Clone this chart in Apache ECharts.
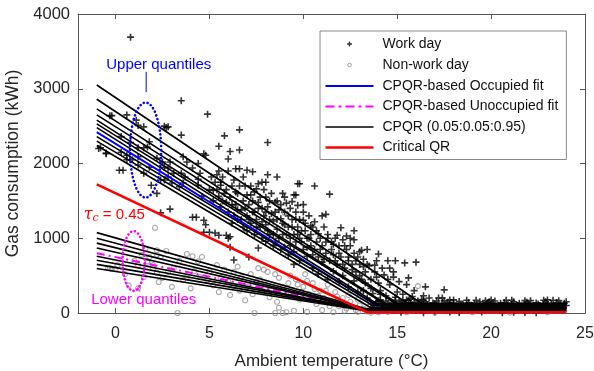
<!DOCTYPE html>
<html>
<head>
<meta charset="utf-8">
<script src="https://cdn.jsdelivr.net/npm/echarts@6/dist/echarts.min.js"></script>
<style>
  html, body { margin: 0; padding: 0; background: #fff; }
  #chart { width: 594px; height: 371px; }
</style>
</head>
<body>
<div id="chart"></div>
<script>
// ---- data ----
const xTicks = [0, 5, 10, 15, 20, 25]

// work day consumption [temperature, kWh]
const workDay = [
  [-0.9,2200],[-0.8,2210],[-0.5,2140],[-0.5,2130],[-0.3,2640],[-0.2,2640],[0.3,2360],[0.3,2150],[0.2,1910],[0.4,1910],
  [0.6,2650],[0.6,2050],[0.6,2110],[0.8,3690],[0.8,2280],[0.9,2050],[1.1,2580],[1.2,2510],[1.2,2210],[1.2,2090],
  [1.2,1980],[1.5,2490],[1.5,2210],[1.5,1870],[1.7,2220],[1.8,2290],[1.8,1950],[1.9,1710],[2.2,2070],[2.2,1600],
  [2.4,1780],[2.4,1340],[2.5,2020],[2.6,2500],[2.6,1950],[2.6,1780],[2.7,2480],[2.8,2490],[2.8,1940],[2.8,1820],
  [2.9,2020],[2.9,1390],[3.0,1740],[3.1,1870],[3.4,1690],[3.5,2840],[3.5,2380],[3.5,1870],[3.6,2090],[3.6,1740],
  [3.7,1820],[3.8,2020],[4.1,1940],[4.1,1280],[4.3,1280],[4.4,2000],[4.4,1710],[4.4,1790],[4.5,1870],[4.6,1560],
  [4.7,2130],[4.7,1240],[4.7,1080],[4.8,2110],[4.8,1180],[4.9,2660],[5.0,1080],[5.0,1650],
  [5.1,1820],[5.2,1640],[5.2,1500],[5.3,1070],[5.4,1850],[5.4,1650],[5.5,1040],[5.5,2230],[5.5,1560],[5.6,1750],
  [5.6,1710],[5.6,1420],[5.8,2370],[5.8,1600],[5.9,1040],[5.9,1480],[6.0,2060],[6.0,1000],[6.0,1350],[6.1,880],
  [6.1,2160],[6.1,1020],[6.1,1550],[6.2,1700],[6.3,710],[6.3,1300],[6.4,1930],[6.4,1450],[6.5,1600],[6.5,1250],
  [6.6,2450],[6.6,2180],[6.6,1930],[6.7,1380],[6.8,1500],[6.8,1150],[6.9,1700],[7.0,1910],[7.0,1300],[7.0,1100],
  [7.1,750],[7.1,1450],[7.2,1580],[7.2,1200],[7.3,1890],[7.3,1350],[7.4,1050],[7.5,1660],[7.5,1250],[7.6,1730],
  [7.6,1480],[7.6,870],[7.7,1150],[7.8,1750],[7.8,1400],[7.8,1000],[7.9,1300],[8.0,1750],[8.0,1550],[8.0,1180],
  [8.0,960],[8.1,2280],[8.1,1850],[8.1,1420],[8.2,1050],[8.3,1330],[8.4,1230],[8.4,900],[8.5,1480],[8.5,950],
  [8.6,1820],[8.6,1120],[8.7,1380],[8.8,1260],[8.8,850],[8.9,1050],[9.0,1550],[9.0,1180],[9.0,880],[9.1,1470],
  [9.2,1300],[9.2,780],[9.3,1000],[9.4,1490],[9.4,1150],[9.5,1580],[9.5,820],[9.5,650],[9.6,1580],[9.6,1250],
  [9.7,1440],[9.7,1730],[9.7,1050],[9.8,1730],[9.8,700],[9.9,950],[10.0,1240],[10.0,1350],[10.1,1100],[10.2,880],
  [10.2,760],[10.3,1000],[10.4,1170],[10.5,780],[10.5,600],[10.6,1700],[10.6,1220],[10.7,950],[10.8,1060],[10.8,520],
  [10.9,850],[11.0,1300],[11.0,680],[11.1,720],[11.2,1320],[11.2,950],[11.3,1050],[11.3,450],[11.4,1590],[11.5,850],
  [11.6,920],[11.6,560],[11.7,700],[11.8,1040],[11.9,800],[11.9,420],[12.0,1140],[12.1,650],[12.1,500],[12.2,900],
  [12.3,1030],[12.4,750],[12.4,350],[12.5,1000],[12.6,580],[12.7,1100],[12.7,980],[12.7,430],[12.8,700],[12.9,280],
  [13.0,820],[13.0,500],[13.1,840],[13.2,620],[13.2,300],[13.3,400],[13.4,200],[13.5,630],[13.6,330],[13.7,260],
  [13.8,640],[13.9,480],[14.0,790],[14.1,250],[14.1,300],[14.3,510],[14.4,230],[14.5,700],[14.6,380],[14.8,480],
  [14.9,700],[14.9,210],[15.0,280],[15.3,250],[15.4,670],[15.6,470],[15.7,190],[15.8,220],[16.0,680],[16.1,90],
  [16.3,180],[16.4,230],[16.7,200],[17.2,200],[17.4,200],[17.5,310],
  [5.3,1750],[5.5,1900],[5.7,1500],[5.7,1820],[5.9,1650],[6.0,1900],[6.2,1450],[6.2,1200],[6.3,1780],[6.4,1620],
  [6.5,1380],[6.6,1700],[6.7,1250],[6.8,1820],[6.9,1400],[7.0,1580],[7.1,1250],[7.2,1700],[7.3,1500],[7.4,1350],
  [7.4,1620],[7.5,1150],[7.6,1400],[7.7,1550],[7.8,1220],[7.9,1650],[8.0,1350],[8.1,1100],[8.2,1500],[8.2,1250],
  [8.3,1600],[8.4,1050],[8.5,1350],[8.6,1250],[8.6,1500],[8.7,1000],[8.8,1450],[8.9,1200],[8.9,1600],[9.0,1350],
  [9.1,1050],[9.2,1150],[9.3,1400],[9.3,900],[9.4,1250],[9.5,1050],[9.6,1350],[9.6,950],[9.7,1150],[9.8,1250],
  [9.8,1000],[9.9,1100],[10.0,850],[10.0,1450],[10.1,1200],[10.2,1000],[10.3,1300],[10.4,900],[10.4,1050],[10.5,1150],
  [10.6,850],[10.7,1100],[10.8,750],[10.9,1000],[11.0,900],[11.1,1150],[11.2,800],[11.3,1000],[11.4,700],[11.5,950],
  [11.6,780],[11.7,1000],[11.8,650],[11.9,900],[12.0,750],[12.1,980],[12.2,600],[12.3,850],[12.4,700],[12.5,900],
  [12.6,650],[12.7,800],[12.8,550],[12.9,750],[13.0,650],[13.1,450],[13.2,720],[13.3,550],[13.4,650],[13.6,450],
  [13.8,550],[14.0,400],[14.2,600],[14.5,450],[14.8,550],[15.1,420],[15.5,380],[15.9,300],[16.5,350],[13.4,850],
  [13.9,700],[14.6,600],
  [13.6,120],[13.8,95],[13.9,150],[14.0,70],[14.2,130],[14.3,105],[14.4,160],[14.6,85],[14.7,140],[14.8,115],
  [15.0,60],[15.1,150],[15.2,100],[15.4,130],[15.5,80],[15.6,170],[15.8,110],[15.9,140],[16.0,65],[16.2,125],
  [16.3,95],[16.5,150],[16.6,110],[16.8,75],[16.9,135],[17.1,160],[17.2,100],[17.4,120],[17.6,85],[17.7,145],
  [17.9,105],[18.0,130],[18.2,70],[18.3,155],[18.5,115],[18.6,90],[18.8,140],[19.0,100],[19.1,125],[19.3,80],
  [19.4,150],[19.6,110],[19.8,135],[19.9,90],[20.1,120],[20.2,160],[20.4,100],[20.6,75],[20.7,140],[20.9,115],
  [21.0,95],[21.2,150],[21.4,105],[21.5,130],[21.7,85],[21.9,145],[22.0,110],[22.2,90],[22.4,135],[22.5,120],
  [22.7,70],[22.9,150],[23.0,100],[23.2,125],[23.4,90],[23.5,140],[23.7,110],[23.8,80],[23.9,130],[24.0,100],
  [14.1,175],[15.3,165],[16.4,170],[17.5,165],[18.7,170],[19.7,165],[20.8,170],[21.8,165],[22.8,170],[23.6,165],
  [13.7,45],[14.0,165],[14.3,55],[14.5,120],[14.9,170],[15.3,45],[15.7,135],[16.1,160],[16.6,50],[17.0,120],
  [17.3,55],[17.8,175],[18.1,45],[18.4,100],[18.9,60],[19.2,170],[19.5,50],[19.9,150],[20.3,55],[20.5,130],
  [20.9,45],[21.1,170],[21.6,55],[22.1,165],[22.3,50],[22.6,100],[23.1,55],[23.3,170],[23.6,50],[24.0,150],
  [14.8,40],[16.0,40],[17.6,40],[19.7,40],[21.3,40],[22.9,40],[15.5,175],[18.0,175],[20.0,175],[23.0,175],
  [15.2,10],[16.4,5],[17.0,15],[17.8,12],[18.3,8],[19.5,12],[20.6,5],[21.2,10],[21.8,8],[22.4,5]
]

// non-work day consumption [temperature, kWh]
const nonWorkDay = [
  [-0.4,600],[-0.3,600],[-0.2,590],[0.0,590],[0.1,640],[0.7,370],[1.0,700],[1.2,330],[1.2,640],[1.4,780],
  [1.6,860],[1.7,690],[1.7,670],[1.8,750],[2.0,640],[2.0,600],[2.1,1140],[2.2,540],[2.2,840],[2.2,780],
  [2.3,415],[2.4,750],[2.7,830],[2.8,550],[3.1,600],[3.3,0],[3.6,440],[3.8,480],[3.8,790],[4.1,760],
  [4.4,690],[4.5,480],[4.6,750],[4.9,440],[5.2,370],[5.4,640],[5.8,580],[6.1,240],[6.3,550],[6.3,360],
  [6.7,480],[6.9,170],[7.2,520],[7.4,0],[7.5,420],[7.6,600],[7.8,310],[7.9,580],[7.9,280],[8.1,550],
  [8.2,210],[8.5,0],[8.5,520],[8.7,470],[8.7,70],[8.9,0],[9.0,1340],[9.1,10],[9.2,400],[9.4,300],
  [9.5,30],[9.6,450],[9.8,180],[10.0,350],[10.1,520],[10.2,15],[10.3,250],[10.5,400],[10.7,120],[10.9,300],
  [11.0,40],[11.1,200],[11.3,380],[11.5,150],[11.6,10],[11.7,280],[11.9,90],[12.1,200],[12.2,30],[12.3,60],
  [12.5,150],[12.8,40],[12.9,15],[13.0,100],[13.4,20],[13.6,5],[14.0,10],[14.5,15],[15.5,10],[16.1,360],
  [17.0,5],[19.0,10],[21.0,5],[23.0,10],
  [7.0,350],[7.3,250],[7.7,450],[8.0,380],[8.3,300],[8.6,150],[8.9,350],[9.1,250],[9.3,500],[9.7,380],
  [9.9,280],[10.2,430],[10.4,180],[10.6,320],[10.8,230],[11.2,300],[11.4,90],[11.8,220],[12.0,130],[12.4,240],
  [12.6,80],[12.9,180],[13.2,60],[5.0,560],[5.6,470],[6.0,420],[6.5,620],[4.2,560],[3.4,700],[2.5,470],
  [0.5,520],[1.5,480],[3.0,350],[4.0,330],[5.5,280],[6.6,300]
]

// quantile lines: value at t = -1, knee temperature, flat level after the knee
const lineStartT = -1
const lineEndT = 24
const upperStart = [3050, 2860, 2730, 2650, 2580, 2530, 2480, 2360, 2300, 2240]
const upperKnee = [16.4, 15.6, 15.2, 14.9, 14.6, 14.4, 14.2, 13.8, 13.7, 13.6]
const upperFloor = [110, 120, 100, 130, 90, 110, 80, 120, 100, 70]
const lowerStart = [1075, 1000, 935, 870, 760, 705, 650, 595]
const lowerKnee = [13.3, 13.3, 13.4, 13.4, 13.5, 13.5, 13.6, 13.6]
const lowerFloor = [60, 50, 40, 45, 30, 35, 25, 20]
const occupiedFit = [2420, 13.9, 100]
const unoccupiedFit = [800, 13.5, 40]
const criticalQR = [1720, 13.4, 10]

const FONT = 'Liberation Sans, Arial, sans-serif'
const PLUS = 'path://M2.7,0h1.6v2.7h2.7v1.6h-2.7v2.7h-1.6v-2.7h-2.7v-1.6h2.7z'

const kinked = (start, knee, floor) => [[lineStartT, start], [knee, floor], [lineEndT, floor]]

const chart = echarts.init(document.getElementById('chart'))

const quantName = 'CPQR (0.05:0.05:0.95)'
const quantLines = []
upperStart.forEach((s, i) => quantLines.push(kinked(s, upperKnee[i], upperFloor[i])))
lowerStart.forEach((s, i) => quantLines.push(kinked(s, lowerKnee[i], lowerFloor[i])))

const series = [
  {
    name: 'Work day', type: 'scatter', data: workDay,
    symbol: PLUS, symbolSize: 7, itemStyle: { color: '#000' }
  },
  {
    name: 'Non-work day', type: 'scatter', data: nonWorkDay,
    symbol: 'circle', symbolSize: 5,
    itemStyle: { color: 'rgba(0,0,0,0)', borderColor: '#909090', borderWidth: 1.1 }
  },
  {
    name: 'CPQR-based Occupied fit', type: 'line', symbol: 'none',
    data: kinked(...occupiedFit),
    lineStyle: { color: '#0000ff', width: 2 }
  },
  {
    name: 'CPQR-based Unoccupied fit', type: 'line', symbol: 'none',
    data: kinked(...unoccupiedFit),
    lineStyle: { color: '#ff00ff', width: 2, type: [8, 4, 2, 4] }
  },
  ...quantLines.map(d => ({
    name: quantName, type: 'line', symbol: 'none', data: d,
    lineStyle: { color: '#000', width: 1.6 }
  })),
  {
    name: 'Critical QR', type: 'line', symbol: 'none',
    data: kinked(...criticalQR),
    lineStyle: { color: '#ff0000', width: 2.5 }
  }
]

const axisColor = '#555'
const labelColor = '#262626'
const plain = v => String(v)

chart.setOption({
  animation: false,
  textStyle: { fontFamily: FONT },
  grid: { left: 78, right: 9, top: 14, bottom: 58, outerBoundsMode: 'none' },
  legend: {
    orient: 'vertical', left: 320, top: 31,
    itemWidth: 48, itemHeight: 14, itemGap: 6.5,
    padding: [6, 8, 5, 5],
    borderColor: '#888', borderWidth: 1, backgroundColor: '#fff',
    textStyle: { fontFamily: FONT, fontSize: 14, color: '#111', padding: [0, 0, 0, 4] },
    data: [
      { name: 'Work day', icon: 'path://M0,0M48,14M21.5,6.3h5v1.4h-5zM23.3,4.5h1.4v5h-1.4z', itemStyle: { color: '#000' } },
      { name: 'Non-work day', icon: 'path://M0,0M48,14M25.8,7a1.8,1.8 0 1 1 -3.6,0a1.8,1.8 0 1 1 3.6,0z',
        itemStyle: { color: 'rgba(0,0,0,0)', borderColor: '#888', borderWidth: 1 } },
      { name: 'CPQR-based Occupied fit', icon: 'path://M0,0M48,14M0,6h48v2h-48z', itemStyle: { color: '#0000ff' } },
      { name: 'CPQR-based Unoccupied fit',
        icon: 'path://M0,0M48,14M0,6h9v2h-9zM13,6h3v2h-3zM20,6h9v2h-9zM33,6h3v2h-3zM40,6h8v2h-8z',
        itemStyle: { color: '#ff00ff' } },
      { name: quantName, icon: 'path://M0,0M48,14M0,6.2h48v1.6h-48z', itemStyle: { color: '#000' } },
      { name: 'Critical QR', icon: 'path://M0,0M48,14M0,5.8h48v2.4h-48z', itemStyle: { color: '#ff0000' } }
    ]
  },
  xAxis: [
    {
      type: 'value', min: -2, max: 25,
      name: 'Ambient temperature (°C)', nameLocation: 'middle', nameGap: 40,
      nameTextStyle: { fontSize: 17, color: labelColor, fontFamily: FONT },
      axisLine: { onZero: false, lineStyle: { color: axisColor } },
      axisTick: { inside: true, length: 5, customValues: xTicks, lineStyle: { color: axisColor } },
      axisLabel: { customValues: xTicks, fontSize: 16, color: labelColor, margin: 13, formatter: plain },
      splitLine: { show: false }
    },
    {
      type: 'value', min: -2, max: 25, position: 'top',
      axisLine: { onZero: false, lineStyle: { color: axisColor } },
      axisTick: { inside: true, length: 5, customValues: xTicks, lineStyle: { color: axisColor } },
      axisLabel: { show: false },
      splitLine: { show: false }
    }
  ],
  yAxis: [
    {
      type: 'value', min: 0, max: 4000, interval: 1000,
      name: 'Gas consumption (kWh)', nameLocation: 'middle', nameGap: 44,
      nameTextStyle: { fontSize: 17.5, color: labelColor, fontFamily: FONT },
      axisLine: { show: true, onZero: false, lineStyle: { color: axisColor } },
      axisTick: { show: true, inside: true, length: 5, lineStyle: { color: axisColor } },
      axisLabel: { fontSize: 16.5, color: labelColor, margin: 8, formatter: plain },
      splitLine: { show: false }
    },
    {
      type: 'value', min: 0, max: 4000, interval: 1000, position: 'right',
      axisLine: { show: true, onZero: false, lineStyle: { color: axisColor } },
      axisTick: { show: true, inside: true, length: 5, lineStyle: { color: axisColor } },
      axisLabel: { show: false },
      splitLine: { show: false }
    }
  ],
  series
})

// ---- annotations anchored in data space ----
const toPx = p => chart.convertToPixel({ xAxisIndex: 0, yAxisIndex: 0 }, p)

function ellipseAt(center, halfT, halfKwh, color) {
  const c = toPx(center)
  const e = toPx([center[0] + halfT, center[1] + halfKwh])
  return {
    type: 'ellipse', silent: true, z: 100,
    shape: { cx: c[0], cy: c[1], rx: Math.abs(e[0] - c[0]), ry: Math.abs(e[1] - c[1]) },
    style: { fill: 'none', stroke: color, lineWidth: 2.6, lineDash: [0.1, 3.8], lineCap: 'round' }
  }
}

function segment(a, b, color) {
  const p = toPx(a), q = toPx(b)
  return {
    type: 'line', silent: true, z: 100,
    shape: { x1: p[0], y1: p[1], x2: q[0], y2: q[1] },
    style: { stroke: color, lineWidth: 1 }
  }
}

function label(at, text, color, align, rich) {
  const p = toPx(at)
  return {
    type: 'text', silent: true, z: 100, x: p[0], y: p[1],
    style: {
      text, fill: color, font: '15px ' + FONT,
      align, verticalAlign: 'middle', rich
    }
  }
}

chart.setOption({
  graphic: [
    ellipseAt([1.6, 2180], 0.83, 635, '#0000ff'),
    segment([1.63, 3225], [1.63, 2955], '#0000ff'),
    label([2.3, 3318], 'Upper quantiles', '#0000ff', 'center'),
    ellipseAt([0.96, 696], 0.59, 400, '#ff00ff'),
    segment([1.18, 345], [1.29, 287], '#ff00ff'),
    label([1.5, 174], 'Lower quantiles', '#ff00ff', 'center'),
    label([-1.7, 1311], '{t|τ}{s|c}{n| = 0.45}', '#ff0000', 'left', {
      t: { fontFamily: 'DejaVu Serif', fontStyle: 'italic', fontSize: 16, fill: '#ff0000' },
      s: { fontFamily: 'DejaVu Serif', fontStyle: 'italic', fontSize: 11, fill: '#ff0000', padding: [6, 0, 0, 0] },
      n: { fontFamily: FONT, fontSize: 15, fill: '#ff0000' }
    })
  ]
})
</script>
</body>
</html>
